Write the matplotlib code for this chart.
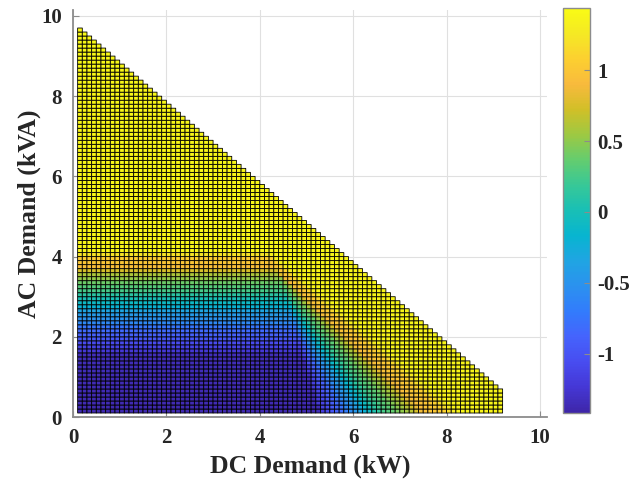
import numpy as np
import matplotlib
matplotlib.use("Agg")
import matplotlib.pyplot as plt
from matplotlib.colors import LinearSegmentedColormap

# --- parula-like colormap (MATLAB default) ---
parula_rgb = [
    (0.2422, 0.1504, 0.6603), (0.2706, 0.2147, 0.8364), (0.2813, 0.3006, 0.9414),
    (0.2699, 0.3892, 0.9906), (0.1963, 0.4847, 0.9892), (0.1687, 0.5703, 0.9359),
    (0.1248, 0.6459, 0.8883), (0.0297, 0.7082, 0.8163), (0.0964, 0.7500, 0.7120),
    (0.2161, 0.7843, 0.5923), (0.3909, 0.8029, 0.4354), (0.6174, 0.7876, 0.2612),
    (0.8203, 0.7498, 0.1535), (0.9728, 0.7298, 0.2394), (0.9892, 0.8136, 0.1885),
    (0.9597, 0.9135, 0.1423), (0.9769, 0.9839, 0.0805),
]
parula = LinearSegmentedColormap.from_list("parula", parula_rgb)

# --- data ---
# grid of DC / AC demand (kW / kVA), step 0.1
dc_edges = np.round(np.arange(0.1, 9.21, 0.1), 2)
ac_edges = np.round(np.arange(0.1, 9.81, 0.1), 2)
max_total = 9.9          # DC + AC limit of the feasible region

# colour value along the AC axis (left part of the map)
level_ac = [0.1, 1.5, 1.6, 1.7, 1.8, 1.9, 2.0, 2.1, 2.2, 2.3, 2.4, 2.5, 2.6,
            2.7, 2.8, 2.9, 3.0, 3.1, 3.2, 3.3, 3.4, 3.5, 3.6, 3.7, 3.8, 3.9,
            4.0, 4.1, 10.0]
level_val = [-1.38, -1.34, -1.22, -1.14, -1.07, -0.98, -0.9, -0.83, -0.74,
             -0.6, -0.52, -0.44, -0.34, -0.2, -0.1, 0.0, 0.12, 0.25, 0.32,
             0.4, 0.52, 0.6, 0.74, 0.94, 1.0, 1.06, 1.22, 1.38, 1.4]

# contour shape: each AC level runs flat up to bend_dc, then straight down
# to bottom_dc on the lowest row
contour_ac = [0.1, 1.6, 2.3, 3.0, 3.4, 3.7, 4.0, 4.5]
bend_dc = [5.0, 4.85, 4.7, 4.5, 4.4, 4.25, 4.15, 4.0]
bottom_dc = [5.1, 5.25, 5.85, 6.45, 7.0, 7.45, 8.05, 8.7]

vmin, vmax = -1.42, 1.44

# --- build the field ---
X, Y = np.meshgrid(dc_edges[:-1], ac_edges[:-1])
sk = np.linspace(contour_ac[0], contour_ac[-1], 441)
xb = np.interp(sk, contour_ac, bend_dc)
xe = np.interp(sk, contour_ac, bottom_dc)
y0 = ac_edges[0]
xx = X[..., None]
yy = Y[..., None]
frac = np.clip((sk - yy) / np.maximum(sk - y0, 1e-9), 0, 1)
xc = xb + frac * (xe - xb)
passed = (yy >= sk - 1e-9) | (xx >= xc)
level = np.where(passed, sk, sk[0]).max(axis=-1)
level = np.where(Y > contour_ac[-1], Y, level)
Z = np.interp(level, level_ac, level_val)
outside = (X + 0.1 + Y + 0.1) > max_total + 1e-9
Z = np.ma.masked_where(outside, Z)

# --- figure ---
plt.rcParams['font.family'] = ['Liberation Serif', 'DejaVu Serif']
plt.rcParams['font.weight'] = 'bold'

fig = plt.figure(figsize=(6.29, 4.84), dpi=100)
ax = fig.add_axes([0.116, 0.1384, 0.7536, 0.841])
mesh = ax.pcolor(dc_edges, ac_edges, Z, cmap=parula, vmin=vmin, vmax=vmax,
                 edgecolors='black', linewidth=0.6)

ax.set_xlim(0, 10.15)
ax.set_ylim(0, 10.15)
ax.set_xticks(range(0, 11, 2))
ax.set_yticks(range(0, 11, 2))
ax.grid(True, color='#e0e0e0', linewidth=0.8)
ax.set_axisbelow(True)
for side in ['top', 'right']:
    ax.spines[side].set_visible(False)
for side in ['left', 'bottom']:
    ax.spines[side].set_color('#8c8c8c')
    ax.spines[side].set_linewidth(1.3)
ax.tick_params(direction='in', length=4, color='#8c8c8c', labelcolor='#262626',
               labelsize=15, pad=8)
for lab in ax.get_xticklabels() + ax.get_yticklabels():
    lab.set_fontweight('bold')

ax.set_xlabel('DC Demand (kW)', fontsize=18.5, fontweight='bold', color='#262626',
              labelpad=5)
ax.set_ylabel('AC Demand (kVA)', fontsize=18.5, fontweight='bold', color='#262626',
              labelpad=0)

cax = fig.add_axes([0.895, 0.1467, 0.0429, 0.837])
cb = fig.colorbar(mesh, cax=cax)
cb.set_ticks([-1, -0.5, 0, 0.5, 1])
cb.set_ticklabels(['-1', '-0.5', '0', '0.5', '1'])
cb.outline.set_edgecolor('#8c8c8c')
cb.outline.set_linewidth(1.0)
cax.tick_params(direction='in', length=4, color='#8c8c8c', labelcolor='#262626',
                labelsize=15, pad=5)
for lab in cax.get_yticklabels():
    lab.set_fontweight('bold')

fig.savefig('out.png', dpi=100)
